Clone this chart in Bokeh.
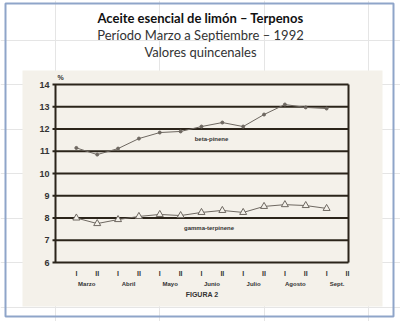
from bokeh.plotting import figure
from bokeh.models import Range1d, ColumnDataSource
from bokeh.core.properties import value
from bokeh.embed import file_html
from bokeh.resources import INLINE

# ---- data ----
quincenas = list(range(1, 14))
beta_pineno = [11.15, 10.85, 11.12, 11.57, 11.84, 11.89, 12.11, 12.29, 12.11, 12.65, 13.10, 12.97, 12.92]
gamma_terpineno = [8.00, 7.75, 7.93, 8.07, 8.16, 8.11, 8.25, 8.34, 8.25, 8.52, 8.60, 8.56, 8.43]
tick_pos = list(range(1, 15))
tick_labels = ["I", "II"] * 7
month_pos = [1.5, 3.5, 5.5, 7.5, 9.5, 11.5, 13.5]
months = ["Marzo", "Abril", "Mayo", "Junio", "Julio", "Agosto", "Sept."]
y_ticks = list(range(6, 15))

titles = ["Aceite esencial de limón – Terpenos",
          "Período Marzo a Septiembre – 1992",
          "Valores quincenales"]

BEIGE = "#f4f1ea"
INK = "#2b241a"
LINEC = "#6e6861"
TXT = "#333333"

# ---- layout: plot area in pixels, data extent of the chart ----
W, H = 400, 321
XMIN, XMAX = 0.0, 14.05
YMIN, YMAX = 6.0, 14.0
PL, PR, PT, PB = 55, 348, 84, 262
SX = (PR - PL) / (XMAX - XMIN)
SY = (PB - PT) / (YMAX - YMIN)


def X(px):
    return XMIN + (px - PL) / SX


def Y(py):
    return YMAX - (py - PT) / SY


p = figure(width=W, height=H, output_backend="svg", toolbar_location=None,
           x_range=Range1d(X(0), X(W)), y_range=Range1d(Y(H), Y(0)),
           min_border=0, x_axis_location=None, y_axis_location=None,
           background_fill_color="white", border_fill_color="white")
p.outline_line_color = None

# slide frame and scanned area
p.quad(left=[X(22)], right=[X(382)], top=[Y(70)], bottom=[Y(306)],
       fill_color=BEIGE, line_color=None)
p.quad(left=[X(5)], right=[X(393)], top=[Y(3)], bottom=[Y(316)],
       fill_alpha=0, line_color="#8fa5c9", line_width=2)

# horizontal rules (grid, with short tick stubs on the left) and frame verticals
p.segment(x0=[X(PL - 3)] * len(y_ticks), x1=[XMAX] * len(y_ticks), y0=y_ticks, y1=y_ticks,
          line_color=INK, line_width=2)
p.segment(x0=[XMIN, XMAX], x1=[XMIN, XMAX], y0=[YMIN, YMIN], y1=[YMAX, YMAX],
          line_color=INK, line_width=2)

# y tick labels
p.text(x=[XMIN] * len(y_ticks), y=y_ticks, text=[str(t) for t in y_ticks],
       x_offset=-6, text_align="right", text_baseline="middle",
       text_font=value("Liberation Sans"), text_font_style="bold",
       text_font_size="9px", text_color=TXT)
p.text(x=[XMIN + 0.25], y=[YMAX], text=["%"], y_offset=-7, text_align="center",
       text_baseline="middle", text_font=value("Liberation Sans"), text_font_style="bold",
       text_font_size="7px", text_color=TXT)

# x tick labels
p.text(x=tick_pos, y=[YMIN] * len(tick_pos), text=tick_labels, y_offset=11,
       text_align="center", text_baseline="middle", text_font=value("Liberation Sans"),
       text_font_style="bold", text_font_size="7px", text_color=TXT)
p.text(x=month_pos, y=[YMIN] * len(month_pos), text=months, y_offset=21,
       text_align="center", text_baseline="middle", text_font=value("Liberation Sans"),
       text_font_style="bold", text_font_size="6px", text_color=TXT)
p.text(x=[(XMIN + XMAX) / 2], y=[YMIN], text=["FIGURA 2"], y_offset=32,
       text_align="center", text_baseline="middle", text_font=value("Liberation Sans"),
       text_font_style="bold", text_font_size="7px", text_color=TXT)

# series
src = ColumnDataSource(dict(x=quincenas, beta=beta_pineno, gamma=gamma_terpineno))
p.line("x", "beta", source=src, line_color=LINEC, line_width=1)
p.scatter("x", "beta", source=src, size=3, marker="circle", fill_color=LINEC, line_color=LINEC)
p.line("x", "gamma", source=src, line_color=LINEC, line_width=1)
p.scatter("x", "gamma", source=src, size=7, marker="triangle", fill_color=BEIGE,
          line_color=LINEC, line_width=1)

p.text(x=[7.48], y=[11.53], text=["beta-pinene"], text_align="center",
       text_baseline="middle", text_font=value("Liberation Sans"), text_font_style="bold",
       text_font_size="6px", text_color=TXT)
p.text(x=[7.36], y=[7.53], text=["gamma-terpinene"], text_align="center",
       text_baseline="middle", text_font=value("Liberation Sans"), text_font_style="bold",
       text_font_size="6px", text_color=TXT)

# titles
for i, (t, py) in enumerate(zip(titles, [17, 34, 51])):
    p.text(x=[X(200)], y=[Y(py)], text=[t], text_align="center", text_baseline="middle",
           text_font=value("Lato"), text_font_style="bold" if i == 0 else "normal",
           text_font_size="13px", text_color="#111111" if i == 0 else "#333333")

open("out.html", "w").write(file_html(p, INLINE))
